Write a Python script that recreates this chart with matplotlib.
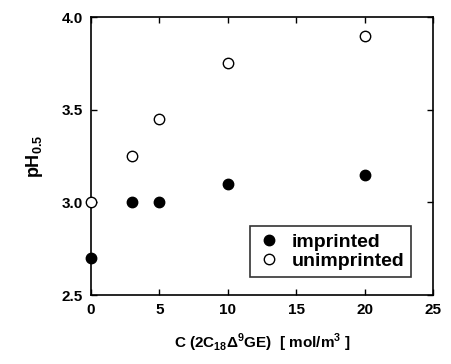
import matplotlib.pyplot as plt

plt.rcParams['font.family'] = ['Liberation Sans', 'DejaVu Sans']
plt.rcParams['font.weight'] = 'bold'
plt.rcParams['mathtext.fontset'] = 'custom'
plt.rcParams['mathtext.rm'] = 'Liberation Sans:bold'
plt.rcParams['mathtext.bf'] = 'Liberation Sans:bold'

conc = [0, 3, 5, 10, 20]
ph_imprinted = [2.7, 3.0, 3.0, 3.1, 3.15]
ph_unimprinted = [3.0, 3.25, 3.45, 3.75, 3.9]

fig = plt.figure(figsize=(4.52, 3.64), dpi=100)
ax = fig.add_axes([91/452, 1 - 295/364, (433 - 91)/452, (295 - 17)/364])

ax.plot(conc, ph_imprinted, 'o', color='black', markersize=7.5,
        linestyle='none', clip_on=False, zorder=3, label='imprinted')
ax.plot(conc, ph_unimprinted, 'o', markerfacecolor='white', markeredgecolor='black',
        markeredgewidth=1.0, markersize=7.5, linestyle='none', clip_on=False,
        zorder=3, label='unimprinted')

ax.set_xlim(0, 25)
ax.set_ylim(2.5, 4.0)
ax.set_xticks([0, 5, 10, 15, 20, 25])
ax.set_yticks([2.5, 3.0, 3.5, 4.0])
ax.set_yticklabels(['2.5', '3.0', '3.5', '4.0'])
ax.tick_params(direction='in', top=True, right=True, length=4, width=1,
               labelsize=11, pad=6)
for sp in ax.spines.values():
    sp.set_linewidth(1.2)

ax.set_ylabel(r'pH$_{0.5}$', fontsize=13, fontweight='bold', labelpad=12)
ax.set_xlabel(r'C (2C$_{18}\Delta^9$GE)  [ mol/m$^3$ ]', fontsize=11,
              fontweight='bold', labelpad=10)

leg = ax.legend(loc='lower right', fontsize=14, frameon=True, fancybox=False,
                edgecolor='black', handletextpad=0.5, borderpad=0.35,
                handlelength=1.3, labelspacing=0.1, bbox_to_anchor=(0.965, 0.03))
leg.get_frame().set_linewidth(1.2)

fig.savefig('out.png', dpi=100)
